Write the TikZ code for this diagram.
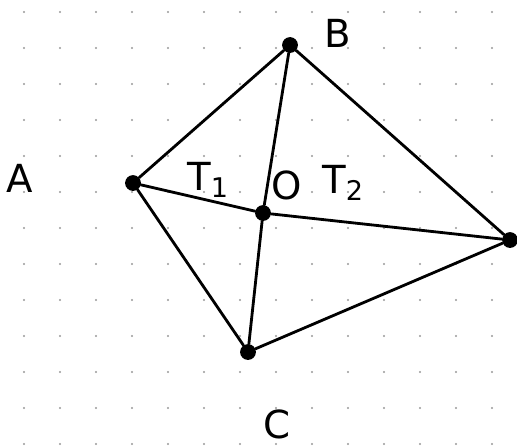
\documentclass[tikz,border=0pt]{standalone}
\usepackage{fontspec}
\setmainfont{DejaVu Sans}
\usepackage{tikz}
\usetikzlibrary{arrows}
\usetikzlibrary{arrows.meta}

\begin{document}
\begin{tikzpicture}[x=0.02cm,y=-0.02cm]
\tikzstyle{pt}=[circle,fill=black,inner sep=0pt,minimum size=9pt]
\tikzstyle{lbl}=[font=\fontsize{22}{24}\selectfont]
\tikzstyle{side}=[line width=1.6pt,line cap=round]
\useasboundingbox (0,0) rectangle (517,447);
\foreach \i in {0,...,13}
  \foreach \j in {0,...,12}
    \fill[gray!80] (24+36*\i,12+36*\j) circle (0.7pt);
\node[pt] (a) at (133,183) {};
\node[pt] (b) at (290,45) {};
\node[pt] (d) at (510,240) {};
\node[pt] (c) at (248,352) {};
\node[pt] (o) at (263,213) {};
\node[lbl] (la) at (20,178) {A};
\node[lbl] (lb) at (338,33) {B};
\node[lbl] (lc) at (277,424) {C};
\node[lbl] (lo) at (287,185) {O};
\node[lbl] (lt1) at (208,180) {T\textsubscript{1}};
\node[lbl] (lt2) at (343,183) {T\textsubscript{2}};
\path[side] (a) edge (b) (b) edge (d) (d) edge (c) (c) edge (a)
  (a) edge (o) (o) edge (d) (b) edge (o) (o) edge (c);
\end{tikzpicture}
\end{document}
